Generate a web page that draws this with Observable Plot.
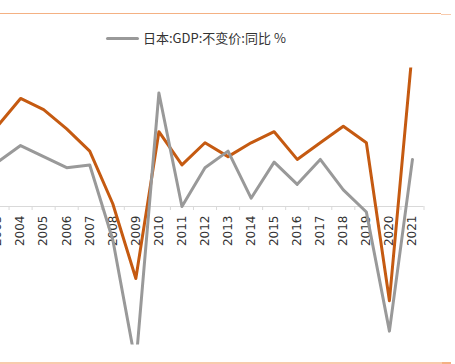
<!DOCTYPE html>
<html>
<head>
<meta charset="utf-8">
<script src="https://cdn.jsdelivr.net/npm/d3@7"></script>
<script src="https://cdn.jsdelivr.net/npm/@observablehq/plot@0.6"></script>
<style>
  html, body { margin: 0; padding: 0; background: #fff; overflow: hidden; }
  #wrap { position: relative; width: 455px; height: 364px; overflow: hidden; background: #fff; }
  #chart { position: absolute; left: 0; top: 0; }
  .border { position: absolute; background: #F4B183; }
  #legend { position: absolute; left: 106px; top: 30px; height: 16px; white-space: nowrap; }
  #legend .swatch { position: absolute; left: 0; top: 7px; width: 33px; height: 3px; background: #999999; border-radius: 1.5px; }
  #legend .label { position: absolute; left: 37px; top: 0; font: 13px "Noto Sans CJK SC", "Noto Sans", sans-serif; line-height: 16px; color: #333; }
</style>
</head>
<body>
<div id="wrap">
  <div class="border" style="left:0;top:12.5px;width:441px;height:1.5px;"></div>
  <div class="border" style="left:441px;top:13.5px;width:10px;height:1.5px;background:#F8CBAD;"></div>
  <div class="border" style="left:0;top:361.5px;width:442px;height:2px;background:#F8CBAD;"></div>
  <div class="border" style="left:442px;top:361.5px;width:9px;height:2px;background:#F4B183;"></div>
  <div id="chart"></div>
  <div id="legend"><span class="swatch"></span><span class="label"></span></div>
</div>
<script>
// Categories (years)
const years = [2003, 2004, 2005, 2006, 2007, 2008, 2009, 2010, 2011, 2012, 2013, 2014, 2015, 2016, 2017, 2018, 2019, 2020, 2021];
// 日本:GDP:不变价:同比 (%)
const japanGdp = [1.6, 2.2, 1.8, 1.4, 1.5, -1.2, -5.7, 4.1, 0.0, 1.4, 2.0, 0.3, 1.6, 0.8, 1.7, 0.6, -0.2, -4.5, 1.7];
// second series (orange, legend entry not shown in the picture)
const otherGdp = [2.9, 3.9, 3.5, 2.8, 2.0, 0.1, -2.6, 2.7, 1.5, 2.3, 1.8, 2.3, 2.7, 1.7, 2.3, 2.9, 2.3, -3.4, 5.7];
const yearLabels = years.map(String);
const legendLabel = "日本:GDP:不变价:同比 %";
const yDomain = [-5, 5];

document.querySelector("#legend .label").textContent = legendLabel;

const japanRows = years.map((yr, i) => ({year: yr, value: japanGdp[i]}));
const otherRows = years.map((yr, i) => ({year: yr, value: otherGdp[i]}));
const firstYear = years[0], lastYear = years[years.length - 1];
const bounds = d3.range(firstYear - 0.5, lastYear + 1, 1);
const labelRows = years.map((yr, i) => ({year: yr, label: yearLabels[i]}));

const chart = Plot.plot({
  width: 455,
  height: 364,
  marginTop: 67.5,
  marginBottom: 19.5,
  marginLeft: 0,
  marginRight: 0,
  style: {background: "transparent", overflow: "hidden"},
  x: {type: "linear", domain: [firstYear - 0.5, lastYear + 0.5], range: [-14.5, 423.5], axis: null},
  y: {domain: yDomain, axis: null},
  marks: [
    Plot.ruleY([0], {x1: firstYear - 0.5, x2: lastYear + 0.5, stroke: "#D9D9D9", strokeWidth: 1}),
    Plot.ruleX(bounds, {x: d => d, y1: () => 0, y2: () => 0, insetBottom: -4, stroke: "#D9D9D9", strokeWidth: 1}),
    Plot.text(labelRows, {
      x: "year", y: () => 0, text: "label", rotate: -90, textAnchor: "end", dy: 9,
      fontSize: 12, fontFamily: "DejaVu Sans, sans-serif", fill: "#333"
    }),
    Plot.line(otherRows, {x: "year", y: "value", stroke: "#C55A11", strokeWidth: 3, clip: true}),
    Plot.line(japanRows, {x: "year", y: "value", stroke: "#999999", strokeWidth: 3, clip: true})
  ]
});
document.getElementById("chart").appendChild(chart);
</script>
</body>
</html>
